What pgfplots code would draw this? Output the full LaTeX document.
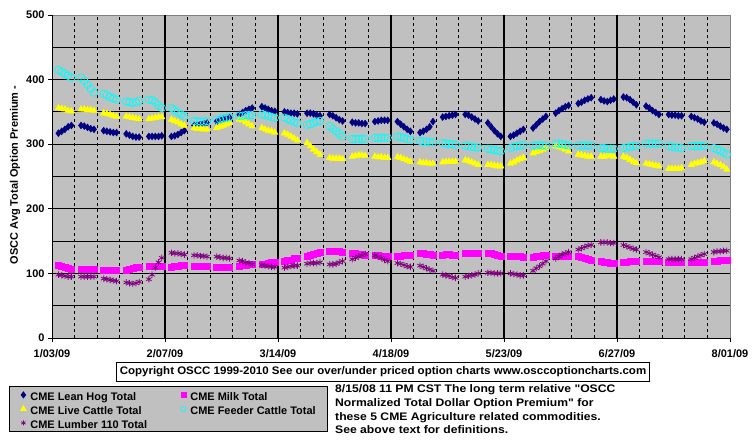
\documentclass[border=0pt]{standalone}
\usepackage{pgfplots}
\usepackage{pgfplotstable}
\pgfplotsset{compat=1.18}
\usepackage{fontspec}
\setmainfont{Liberation Sans}
\newfontfamily\plainsans{Liberation Sans}

\definecolor{xlgray}{HTML}{C0C0C0}
\definecolor{xlborder}{HTML}{808080}
\definecolor{xlnavy}{HTML}{000080}
\definecolor{xlmag}{HTML}{FF00FF}
\definecolor{xlyel}{HTML}{FFFF00}
\definecolor{xlcyan}{HTML}{00FFFF}
\definecolor{xlpurp}{HTML}{800080}

\newcommand\f{\fontsize{11}{13}\selectfont\bfseries}
\newcommand\ent[2]{\makebox[#1][l]{\rule[-4.5bp]{0pt}{17bp}#2}}

% day (0 = 1/03/09), lean hog, milk, live cattle, feeder cattle, lumber
\pgfplotstableread{
d h m l f w
2 317 112 356 415 98
3 320 111 355 412 97
4 323 110 354 409 96
5 327 108 352 406 95
6 329 107 351 403 95
9 329 106 354 403 95
10 328 106 354 398 95
11 326 106 353 392 95
12 324 106 353 386 95
13 323 106 352 380 95
16 321 105 348 378 92
17 320 105 347 376 91
18 319 105 346 373 90
19 318 105 344 371 89
20 318 105 343 369 88
23 316 105 343 366 86
24 314 107 342 365 85
25 312 108 341 364 84
26 311 109 340 365 85
27 311 110 339 367 87
30 312 111 339 369 91
31 312 111 340 368 98
32 312 111 341 365 109
33 312 111 342 360 117
34 313 111 342 356 124
37 312 110 338 356 132
38 313 111 336 353 131
39 315 111 334 349 131
40 318 112 331 346 130
41 321 112 329 343 129
44 329 111 325 336 128
45 330 111 324 335 128
46 331 111 324 335 127
47 332 111 323 335 127
48 333 111 323 336 126
51 335 110 325 338 126
52 337 110 327 339 125
53 339 110 329 340 124
54 340 110 331 341 124
55 341 110 333 342 123
58 346 111 338 344 120
59 349 112 337 344 119
60 352 113 334 345 117
61 354 114 331 345 116
62 356 114 328 345 114
65 358 114 325 346 113
66 356 115 323 345 112
67 354 116 321 344 111
68 352 117 320 342 110
69 351 118 318 341 110
72 350 119 317 341 109
73 349 120 315 339 110
74 348 121 312 337 111
75 348 123 309 334 112
76 347 124 306 333 112
79 348 126 302 330 115
80 348 128 297 331 116
81 347 130 292 333 116
82 345 132 288 335 116
83 344 133 284 336 117
86 346 134 279 328 114
87 344 135 278 324 114
88 341 135 278 320 115
89 338 134 278 316 117
90 336 133 277 312 119
93 334 132 281 308 122
94 333 131 282 308 124
95 333 130 283 308 126
96 332 129 283 308 128
97 332 128 282 308 130
100 335 128 281 310 128
101 336 128 280 310 126
102 337 127 280 310 124
103 337 127 279 310 121
104 337 126 279 310 119
107 335 127 280 312 116
108 331 127 279 311 115
109 327 128 277 310 113
110 323 128 275 308 111
111 320 128 273 307 110
114 318 131 272 305 112
115 320 131 271 304 110
116 323 130 271 304 108
117 327 129 270 303 106
118 335 128 270 303 104
121 342 128 272 302 98
122 343 129 273 301 97
123 344 129 273 300 96
124 345 128 273 300 94
125 346 128 273 299 93
128 346 131 275 298 95
129 345 131 274 297 96
130 342 131 272 296 97
131 339 131 270 295 98
132 336 131 268 295 100
135 333 132 268 293 101
136 327 131 268 292 101
137 321 130 267 291 100
138 316 128 266 290 100
139 312 127 266 289 100
142 312 127 270 294 100
143 314 127 272 296 99
144 317 126 275 297 98
145 320 126 277 298 97
146 323 125 279 299 97
149 325 125 286 298 104
150 330 126 288 298 108
151 335 127 290 299 111
152 339 128 292 298 115
153 343 128 294 298 119
156 348 127 297 301 123
157 352 127 296 301 126
158 355 127 294 300 129
159 358 127 292 299 131
160 360 127 289 298 133
163 363 126 284 298 137
164 365 125 283 298 139
165 368 123 282 298 141
166 370 122 281 298 143
167 372 121 281 298 144
170 369 119 281 294 148
171 367 118 281 294 148
172 366 117 282 293 148
173 368 116 282 293 147
174 370 116 281 293 147
177 373 118 281 294 144
178 372 118 279 295 142
179 369 119 276 296 140
180 365 119 273 297 138
181 361 119 271 297 137
184 359 119 270 301 133
185 356 119 269 301 131
186 352 119 268 301 129
187 349 119 267 301 127
188 346 119 266 301 125
191 346 118 262 297 122
192 345 118 262 296 122
193 345 118 262 295 122
194 344 118 262 295 122
195 344 118 263 294 122
198 343 118 268 297 122
199 341 118 270 297 124
200 339 118 271 297 126
201 336 118 272 297 128
202 334 118 274 297 130
205 333 119 272 294 133
206 331 119 270 292 134
207 328 120 268 290 134
208 325 120 265 287 135
209 323 121 261 284 135
}\premium

\begin{document}
\begin{tikzpicture}
\useasboundingbox (0,0) rectangle (755bp,446bp);
\begin{axis}[
    at={(52bp,108bp)}, anchor=south west,
    width=678bp, height=323bp, scale only axis,
    xmin=0, xmax=210, ymin=0, ymax=500,
    xtick={35,70,105,140,175},
    xticklabels={2/07/09,3/14/09,4/18/09,5/23/09,6/27/09},
    extra x ticks={0,210},
    extra x tick labels={1/03/09,8/01/09},
    extra x tick style={grid=none},
    minor xtick={7,14,21,28,42,49,56,63,77,84,91,98,112,119,126,133,147,154,161,168,182,189,196,203},
    ytick={0,100,200,300,400},
    extra y ticks={500},
    extra y tick style={grid=none},
    minor ytick={50,150,250,350,450},
    grid=both,
    major x grid style={black, line width=2bp},
    minor x grid style={black, line width=0.8bp, dash pattern=on 3bp off 3bp},
    major y grid style={black, line width=0.8bp},
    minor y grid style={black, line width=0.8bp},
    axis x line*=bottom, axis y line*=left,
    axis line style={black, line width=0.8bp, -},
    axis background/.style={fill=xlgray, draw=xlborder, line width=0.8bp},
    tick align=outside, major tick length=4bp, minor tick length=0pt,
    tick style={black, line width=0.8bp},
    ticklabel style={font=\f},
    xticklabel style={yshift=-4bp},
    /pgf/number format/assume math mode=true,
    legend columns=2,
    legend cell align=left,
    legend style={at={(-0.06342,-0.14861)}, anchor=north west,
        draw=black, line width=0.8bp, fill=xlgray, font=\f,
        inner xsep=10bp, inner ysep=1.5bp, column sep=3bp, row sep=0pt,
        nodes={inner sep=0pt}},
    legend image code/.code={\draw[#1] plot coordinates {(0bp,0bp)};
        \path[draw=none, fill=none] (-4bp,-4bp) (4bp,4bp);},
]
\addplot[only marks, mark=diamond*, mark size=3.5bp, color=xlnavy,
    legend image post style={mark size=3bp}] table[x=d, y=h] {\premium};
\addlegendentry{\ent{146bp}{CME Lean Hog Total}}
\addplot[only marks, mark=square*, mark size=3bp, color=xlmag,
    legend image post style={mark size=2.5bp}] table[x=d, y=m] {\premium};
\addlegendentry{\ent{127bp}{CME Milk Total}}
\addplot[only marks, mark=triangle*, mark size=3.8bp, color=xlyel,
    legend image post style={mark size=3.2bp}] table[x=d, y=l] {\premium};
\addlegendentry{\ent{146bp}{CME Live Cattle Total}}
\addplot[only marks, mark=o, mark size=3.8bp, color=xlcyan, line width=0.7bp,
    legend image post style={mark size=2.5bp}] table[x=d, y=f] {\premium};
\addlegendentry{\ent{127bp}{CME Feeder Cattle Total}}
\addplot[only marks, mark=asterisk, mark size=3.2bp, color=xlpurp, line width=0.8bp,
    legend image post style={mark size=2.5bp}] table[x=d, y=w] {\premium};
\addlegendentry{\ent{146bp}{CME Lumber 110 Total}}
\end{axis}
\node[rotate=90, font=\f] at (15bp,271bp) {OSCC Avg Total Option Premium -};
\node[draw=black, line width=0.8bp, fill=white, inner xsep=3bp, inner ysep=0pt,
    minimum height=19bp, font=\f] at (383bp,74.5bp)
    {\scalebox{1.05}[1]{Copyright OSCC 1999-2010 See our over/under priced option charts www.osccoptioncharts.com}};
\node[anchor=base west, inner sep=0pt, font=\f\plainsans] at (335bp,53bp) {\scalebox{1.11}[1]{8/15/08 11 PM CST The long term relative "OSCC}};
\node[anchor=base west, inner sep=0pt, font=\f\plainsans] at (335bp,39.5bp) {\scalebox{1.11}[1]{Normalized Total Dollar Option Premium" for}};
\node[anchor=base west, inner sep=0pt, font=\f\plainsans] at (335bp,26bp) {\scalebox{1.11}[1]{these 5 CME Agriculture related commodities.}};
\node[anchor=base west, inner sep=0pt, font=\f\plainsans] at (335bp,12.5bp) {\scalebox{1.11}[1]{See above text for definitions.}};
\end{tikzpicture}
\end{document}
